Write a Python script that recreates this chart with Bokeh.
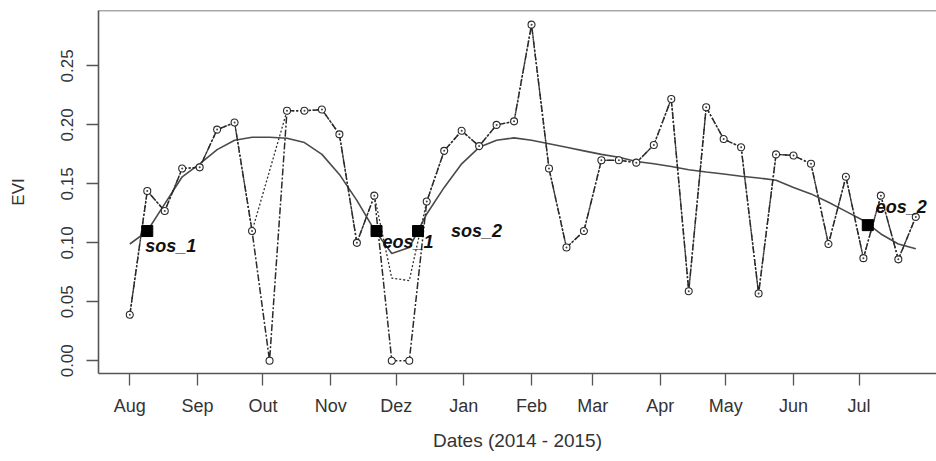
import numpy as np
import pandas as pd
from bokeh.plotting import figure
from bokeh.models import Range1d, FixedTicker, Span, ColumnDataSource, PrintfTickFormatter
from bokeh.core.properties import value
from bokeh.embed import file_html
from bokeh.resources import INLINE

# ---------------- data ----------------
dates = ["2014-08-01", "2014-08-09", "2014-08-17", "2014-08-25", "2014-09-02", "2014-09-10",
         "2014-09-18", "2014-09-26", "2014-10-04", "2014-10-12", "2014-10-20", "2014-10-28",
         "2014-11-05", "2014-11-13", "2014-11-21", "2014-11-29", "2014-12-07", "2014-12-15",
         "2014-12-23", "2014-12-31", "2015-01-08", "2015-01-16", "2015-01-24", "2015-02-01",
         "2015-02-09", "2015-02-17", "2015-02-25", "2015-03-05", "2015-03-13", "2015-03-21",
         "2015-03-29", "2015-04-06", "2015-04-14", "2015-04-22", "2015-04-30", "2015-05-08",
         "2015-05-16", "2015-05-24", "2015-06-01", "2015-06-09", "2015-06-17", "2015-06-25",
         "2015-07-03", "2015-07-11", "2015-07-19", "2015-07-27"]

evi_raw = [0.039, 0.144, 0.127, 0.163, 0.164, 0.196, 0.202, 0.110, 0.000, 0.212,
           0.212, 0.213, 0.192, 0.100, 0.140, 0.000, 0.000, 0.135, 0.178, 0.195,
           0.182, 0.200, 0.203, 0.285, 0.163, 0.096, 0.110, 0.170, 0.170, 0.168,
           0.183, 0.222, 0.059, 0.215, 0.188, 0.181, 0.057, 0.175, 0.174, 0.167,
           0.099, 0.156, 0.087, 0.140, 0.086, 0.122]

evi_filled = [0.039, 0.144, 0.127, 0.163, 0.164, 0.196, 0.202, 0.110, 0.161, 0.212,
              0.212, 0.213, 0.192, 0.100, 0.140, 0.070, 0.068, 0.135, 0.178, 0.195,
              0.182, 0.200, 0.203, 0.285, 0.163, 0.096, 0.110, 0.170, 0.170, 0.168,
              0.183, 0.222, 0.059, 0.215, 0.188, 0.181, 0.057, 0.175, 0.174, 0.167,
              0.099, 0.156, 0.087, 0.140, 0.086, 0.122]

evi_smooth = [0.099, 0.110, 0.133, 0.156, 0.167, 0.179, 0.187, 0.1895, 0.1895, 0.1887,
              0.185, 0.175, 0.158, 0.136, 0.111, 0.091, 0.096, 0.1245, 0.147, 0.167,
              0.181, 0.187, 0.189, 0.187, 0.184, 0.181, 0.178, 0.175, 0.1726, 0.169,
              0.167, 0.1647, 0.162, 0.160, 0.1584, 0.1564, 0.155, 0.153, 0.147, 0.1415,
              0.1344, 0.1267, 0.119, 0.1075, 0.099, 0.095]

month_ticks = ["2014-08-01", "2014-09-01", "2014-10-01", "2014-11-01", "2014-12-01", "2015-01-01",
               "2015-02-01", "2015-03-01", "2015-04-01", "2015-05-01", "2015-06-01", "2015-07-01"]
month_labels = ["Aug", "Sep", "Out", "Nov", "Dez", "Jan", "Feb", "Mar", "Apr", "May", "Jun", "Jul"]
y_ticks = [0.00, 0.05, 0.10, 0.15, 0.20, 0.25]

pheno_names = ["sos_1", "eos_1", "sos_2", "eos_2"]
pheno_dates = ["2014-08-09", "2014-11-22", "2014-12-11", "2015-07-05"]
pheno_values = [0.110, 0.110, 0.110, 0.115]

# ---------------- styling ----------------
label_dx = [-2, 6, 33, 8]
label_dy = [15, 11, 0, -18]
AXIS_FONT = "Liberation Sans"
DARK = "#2a2a2a"
FRAME = "#555555"


def ms(d):
    return pd.Timestamp(d).value / 1e6


DAY = 86400000.0
t0 = ms(dates[0])

x = pd.to_datetime(dates)
src = ColumnDataSource(dict(x=x, raw=evi_raw, filled=evi_filled, smooth=evi_smooth))
good = [i for i, v in enumerate(evi_raw) if v > 0]
src_good = ColumnDataSource(dict(x=x[good], raw=[evi_raw[i] for i in good]))
src_ph = ColumnDataSource(dict(x=pd.to_datetime(pheno_dates), y=pheno_values, name=pheno_names,
                               dx=label_dx, dy=label_dy))

p = figure(width=936, height=461, x_axis_type="datetime", output_backend="svg",
           toolbar_location=None, min_border_left=98, min_border_right=0,
           min_border_top=10, min_border_bottom=88,
           x_range=Range1d(t0 - 14.34 * DAY, t0 + 369.48 * DAY),
           y_range=Range1d(-0.0108, 0.2970))

p.background_fill_color = "white"
p.border_fill_color = "white"
p.outline_line_color = None
p.xgrid.visible = False
p.ygrid.visible = False

# lines
p.line("x", "smooth", source=src, line_color="#4a4a4a", line_width=1.6)
p.line("x", "filled", source=src, line_color="#333333", line_width=1.3, line_dash="2 2")
p.line("x", "raw", source=src, line_color=DARK, line_width=1.5, line_dash="7 2 2 2")

# points
p.scatter("x", "raw", source=src, marker="circle", size=7, fill_color="white",
          line_color=DARK, line_width=1.1)
p.scatter("x", "raw", source=src_good, marker="circle", size=2, fill_color="#444444",
          line_color=None)

# phenology markers
p.scatter("x", "y", source=src_ph, marker="square", size=11, fill_color="black",
          line_color="black")
p.text("x", "y", text="name", source=src_ph, x_offset="dx", y_offset="dy",
       text_font=value("Liberation Sans"), text_font_style="bold italic",
       text_font_size="18px", text_color="#111111", text_align="left",
       text_baseline="middle")

# frame top
p.add_layout(Span(location=0.2970, dimension="width", line_color=FRAME, line_width=1.6))

# axes
xa = p.xaxis[0]
xa.ticker = FixedTicker(ticks=[ms(t) for t in month_ticks])
xa.major_label_overrides = {ms(t): lab for t, lab in zip(month_ticks, month_labels)}
xa.axis_label = "Dates (2014 - 2015)"

ya = p.yaxis[0]
ya.ticker = FixedTicker(ticks=y_ticks)
ya.formatter = PrintfTickFormatter(format="%.2f")
ya.major_label_orientation = "vertical"
ya.axis_label = "EVI"

for ax in (xa, ya):
    ax.axis_line_color = FRAME
    ax.axis_line_width = 1.6
    ax.major_tick_line_color = FRAME
    ax.major_tick_line_width = 1.3
    ax.major_tick_out = 12
    ax.major_tick_in = 0
    ax.minor_tick_line_color = None
    ax.major_label_text_font = AXIS_FONT
    ax.major_label_text_color = "#333333"
    ax.axis_label_text_font = AXIS_FONT
    ax.axis_label_text_font_style = "normal"
    ax.axis_label_text_color = "#333333"

xa.major_label_text_font_size = "18px"
xa.axis_label_text_font_size = "19px"
ya.major_label_text_font_size = "17px"
ya.axis_label_text_font_size = "17px"

xa.major_label_standoff = 10
xa.axis_label_standoff = 11
ya.major_label_standoff = 13
ya.axis_label_standoff = 31

open("out.html", "w").write(file_html(p, INLINE))
